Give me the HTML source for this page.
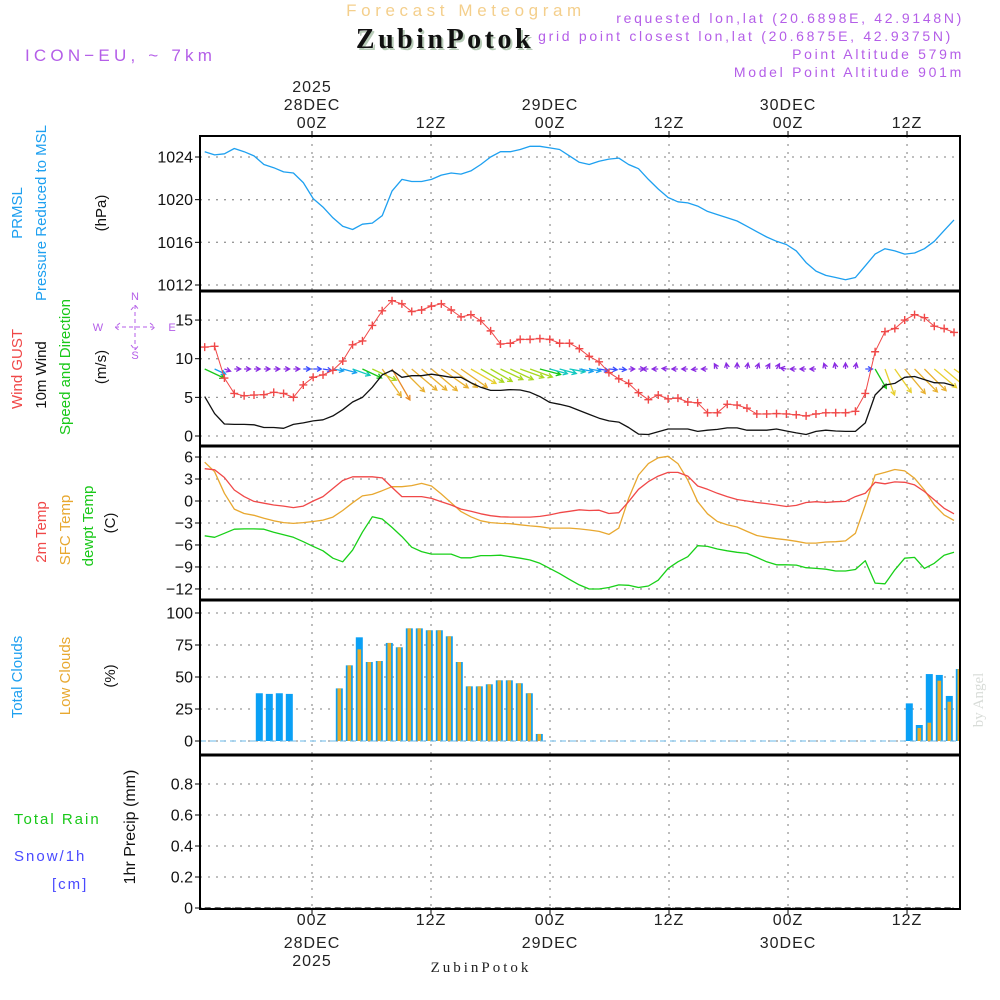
<!DOCTYPE html>
<html><head><meta charset="utf-8"><title>Meteogram ZubinPotok</title>
<style>
html,body{margin:0;padding:0;background:#fff;}
svg{display:block;font-family:"Liberation Sans",sans-serif;}
</style></head>
<body>
<svg id="chart" width="1000" height="1000" viewBox="0 0 1000 1000" xmlns="http://www.w3.org/2000/svg">
<defs><clipPath id="plotclip"><rect x="200" y="136" width="760" height="773"/></clipPath></defs>
<rect x="0" y="0" width="1000" height="1000" fill="#fff"/>
<!-- header -->
<text x="466" y="16" text-anchor="middle" font-size="17" fill="#f4cf8c" letter-spacing="4.6">Forecast Meteogram</text>
<text x="447" y="50" text-anchor="middle" font-family="Liberation Serif,serif" font-weight="bold" font-size="28" fill="#b8ccb8" letter-spacing="3.5">ZubinPotok</text>
<text x="445" y="48" text-anchor="middle" font-family="Liberation Serif,serif" font-weight="bold" font-size="28" fill="#111" letter-spacing="3.5">ZubinPotok</text>
<text x="25" y="61" font-size="17" fill="#b45ee8" letter-spacing="4.2">ICON−EU, ~ 7km</text>
<text x="964" y="23" text-anchor="end" font-size="14" fill="#b45ee8" letter-spacing="2.7">requested lon,lat (20.6898E, 42.9148N)</text>
<text x="953" y="41" text-anchor="end" font-size="14" fill="#b45ee8" letter-spacing="2.7">grid point closest lon,lat (20.6875E, 42.9375N)</text>
<text x="964" y="59" text-anchor="end" font-size="14" fill="#b45ee8" letter-spacing="2.7">Point Altitude 579m</text>
<text x="964" y="77" text-anchor="end" font-size="14" fill="#b45ee8" letter-spacing="2.7">Model Point Altitude 901m</text>
<text x="983" y="700" text-anchor="middle" font-family="Liberation Serif,serif" font-size="15" fill="#d8dcd8" transform="rotate(-90 983 700)">by Angel</text>
<text x="481" y="972" text-anchor="middle" font-family="Liberation Serif,serif" font-size="15" fill="#222" letter-spacing="3">ZubinPotok</text>
<g id="labels" font-size="15"></g>
<g id="grid"></g>
<g id="marks" clip-path="url(#plotclip)"></g>
<g id="frames"></g>
</svg>
<script>
// ---------- data ----------
const tickHours = [0, 12, 24, 36, 48, 60];
const tickTopLabels = ["00Z", "12Z", "00Z", "12Z", "00Z", "12Z"];
const tickDateLabels = ["28DEC", "", "29DEC", "", "30DEC", ""];
const tickYearLabels = ["2025", "", "", "", "", ""];

const pressure = [1024.5,1024.2,1024.3,1024.8,1024.5,1024.1,1023.3,1023.0,1022.6,1022.5,
1021.6,1020.1,1019.3,1018.3,1017.5,1017.2,1017.7,1017.8,1018.5,1020.8,
1021.9,1021.7,1021.7,1021.9,1022.3,1022.5,1022.4,1022.7,1023.3,1024.0,
1024.5,1024.5,1024.7,1025.0,1025.0,1024.85,1024.7,1024.1,1023.5,
1023.3,1023.6,1023.8,1023.9,1023.3,1022.9,1021.9,1021.0,1020.2,1019.8,
1019.7,1019.4,1018.9,1018.6,1018.3,1018.0,1017.5,1017.0,1016.5,1016.1,
1015.8,1015.2,1014.1,1013.3,1012.9,1012.7,1012.5,1012.7,1013.8,1014.9,
1015.4,1015.2,1014.9,1015.0,1015.4,1016.1,1017.1,1018.1];
const pressureTicks = [1012, 1016, 1020, 1024];

const gust = [11.5,11.6,7.5,5.5,5.2,5.3,5.35,5.65,5.5,5.0,
6.6,7.6,7.9,8.5,9.7,11.8,12.3,14.3,16.2,17.5,
17.1,16.1,16.3,16.8,17.1,16.3,15.4,15.7,14.9,13.6,
11.9,12.0,12.5,12.5,12.6,12.5,12.0,12.0,11.3,
10.3,9.6,8.2,7.4,6.8,5.6,4.7,5.3,4.8,4.9,
4.4,4.3,3.0,3.0,4.1,4.0,3.6,2.85,2.85,2.9,
2.85,2.75,2.6,2.85,3.0,3.0,3.0,3.2,5.5,10.9,
13.5,13.9,15.0,15.7,15.3,14.2,13.9,13.4];
const windSpeed = [5.1,2.9,1.55,1.5,1.5,1.45,1.1,1.1,1.0,1.5,
1.7,1.95,2.1,2.6,3.4,4.4,5.0,6.3,7.9,8.5,
7.6,7.8,7.8,8.0,7.8,7.6,7.6,6.9,6.3,5.9,
5.9,6.0,5.95,5.65,5.1,4.35,4.1,3.8,3.3,
2.8,2.3,1.95,1.8,1.1,0.25,0.2,0.55,0.9,0.9,
0.9,0.6,0.75,0.85,1.05,1.05,0.75,0.75,0.75,0.9,
0.65,0.4,0.2,0.6,0.75,0.65,0.6,0.6,1.7,5.3,
6.6,6.8,7.6,7.7,7.3,6.9,6.85,6.5];
const windDirScreen = [25,25,20, 0,0,0,0,0,0,0,0,0, 10,10,15,20, 25,25,
55,60,45,40,40,40, 35,35,35,30,30,30,25,25, 20,20,15,15,15,10,10,
10,10,5,5,0, 0, 180,180,185,180,180,175,180, 240,260,270,280,290,300,300,
190,180,180, 180,250,260,270,280,0, 60,70, 55,50,45,45,40,40,35];
const windTicks = [0, 5, 10, 15];

const temp2m = [4.4,4.25,3.2,1.5,0.6,-0.05,-0.3,-0.55,-0.7,-0.9,
-0.7,0.0,0.6,1.7,2.8,3.3,3.3,3.3,3.15,1.85,
0.6,0.6,0.6,0.35,-0.1,-0.55,-1.1,-1.4,-1.75,-2.0,
-2.15,-2.2,-2.2,-2.2,-2.1,-1.9,-1.6,-1.4,-1.2,
-1.3,-1.25,-1.7,-1.6,-0.1,1.6,2.65,3.4,3.9,3.9,
3.4,2.05,1.6,1.05,0.6,0.2,0,-0.2,-0.35,-0.55,
-0.75,-0.6,-0.2,-0.1,-0.2,-0.1,-0.05,0.6,1.05,2.55,
2.35,2.6,2.55,2.2,1.3,0.15,-1.0,-1.75];
const tempSfc = [5.3,4.0,1.05,-1.1,-1.7,-1.95,-2.35,-2.7,-2.95,-3.05,
-2.95,-2.8,-2.6,-2.2,-1.3,-0.25,0.7,0.9,1.4,1.95,
1.95,2.1,2.4,2.05,0.95,-0.25,-1.45,-2.15,-2.7,-2.95,
-3.05,-3.1,-3.25,-3.4,-3.5,-3.7,-3.7,-3.7,-3.8,
-3.95,-4.15,-4.55,-3.7,0.35,3.55,5.1,5.9,6.1,5.1,
2.85,-0.1,-1.75,-2.8,-3.25,-3.55,-4.15,-4.7,-4.95,-5.15,
-5.3,-5.5,-5.75,-5.75,-5.6,-5.55,-5.45,-4.4,-0.55,3.55,
3.9,4.3,4.1,3.1,1.5,-0.55,-1.9,-2.65];
const dewpoint = [-4.75,-4.95,-4.4,-3.85,-3.8,-3.8,-3.85,-4.25,-4.6,-4.95,
-5.55,-6.2,-6.8,-7.8,-8.3,-6.7,-4.25,-2.15,-2.45,-3.6,
-4.85,-6.3,-6.9,-7.25,-7.25,-7.25,-7.75,-7.75,-7.45,-7.45,
-7.4,-7.6,-7.8,-8.05,-8.5,-9.2,-9.9,-10.7,-11.45,
-12.0,-12.0,-11.8,-11.45,-11.5,-11.8,-11.6,-10.8,-9.2,-8.3,
-7.6,-6.1,-6.2,-6.55,-6.8,-7.0,-7.15,-7.7,-8.3,-8.7,
-8.7,-8.75,-9.1,-9.2,-9.3,-9.55,-9.55,-9.35,-8.15,-11.2,
-11.3,-9.4,-7.8,-7.7,-9.2,-8.5,-7.4,-7.0];
const tempTicks = [-12, -9, -6, -3, 0, 3, 6];

const totalClouds = [0,0,0,0,0, 37.3,36.8,37.3,36.8, 0,0,0,0,
41.1,59.1,81.0,61.7,62.5,76.6,73.2,88.0,88.0,86.5,86.5,81.8,61.7,42.7,42.7,44.3,47.4,47.4,45.1,37.3,5.5,
0,0,0,0,0,0,0,0,0,0,0,0,0,0,0,0,0,0,0,0,0,0,0,0,0,0,0,0,0,0,0,0,0,0,0,0,
29.4,12.5,52.3,51.6,35.2,56.2];
const lowClouds = [0,0,0,0,0, 0,0,0,0, 0,0,0,0,
41.1,59.1,71.6,61.7,62.5,76.6,73.2,88.0,88.0,86.5,86.5,81.8,61.7,42.7,42.7,44.3,47.4,47.4,45.1,37.3,5.5,
0,0,0,0,0,0,0,0,0,0,0,0,0,0,0,0,0,0,0,0,0,0,0,0,0,0,0,0,0,0,0,0,0,0,0,0,
0,10.2,14.3,47.1,30.7,56.2];
const cloudTicks = [0, 25, 50, 75, 100];

const precip = new Array(77).fill(0);
const precipTicks = [0, 0.2, 0.4, 0.6, 0.8];
const precipTickLabels = ["0", "0.2", "0.4", "0.6", "0.8"];

// ---------- scales ----------
const L = 200, R = 960;
const panels = {p:[136,291], w:[291,446], t:[446,600], c:[600,755], r:[755,909]};
const xTime = h => 312 + h * 9.917;
const xIdx = i => 204.7 + i * (749.3 / 76);
const xBar = i => 259.3 + (i - 5) * 10;
const yP = v => 285 - (v - 1012) * 10.667;
const yW = v => 436 - v * 7.73;
const yT = v => 501 - v * 7.33;
const yC = v => 741 - v * 1.28;
const yR = v => 908 - v * 155;

const NS = "http://www.w3.org/2000/svg";
function mk(tag, attrs, parent) {
  const e = document.createElementNS(NS, tag);
  for (const k in attrs) e.setAttribute(k, attrs[k]);
  parent.appendChild(e);
  return e;
}
const grid = document.getElementById('grid');
const marks = document.getElementById('marks');
const frames = document.getElementById('frames');
const labels = document.getElementById('labels');

// ---------- grid & ticks ----------
tickHours.forEach((h, k) => {
  const x = xTime(h);
  const g = mk('line', {x1:x, x2:x, y1:136, y2:909, stroke:'#999', 'stroke-width':1.3, 'stroke-dasharray':'2,6'}, grid);
  
  
  const t1 = mk('line', {x1:x, x2:x, y1:131, y2:136, stroke:'#000', 'stroke-width':1}, grid);
  
  
  const t2 = mk('line', {x1:x, x2:x, y1:909, y2:914, stroke:'#000', 'stroke-width':1}, grid);
  
  
  const a = mk('text', {x:x, y:128, 'text-anchor':'middle', 'font-size':16, fill:'#222', 'letter-spacing':1}, labels);
  a.textContent = tickTopLabels[k];
  
  
  const b = mk('text', {x:x, y:925, 'text-anchor':'middle', 'font-size':16, fill:'#222', 'letter-spacing':1}, labels);
  b.textContent = tickTopLabels[k];
  
  
  if (tickDateLabels[k]) {
    const d = mk('text', {x:x, y:110, 'text-anchor':'middle', 'font-size':16, fill:'#222', 'letter-spacing':1}, labels);
    d.textContent = tickDateLabels[k];
    
    
    const d2 = mk('text', {x:x, y:948, 'text-anchor':'middle', 'font-size':16, fill:'#222', 'letter-spacing':1}, labels);
    d2.textContent = tickDateLabels[k];
    
    
  }
  if (tickYearLabels[k]) {
    const yy = mk('text', {x:x, y:92, 'text-anchor':'middle', 'font-size':16, fill:'#222', 'letter-spacing':1}, labels);
    yy.textContent = tickYearLabels[k];
    
    
    const y2 = mk('text', {x:x, y:966, 'text-anchor':'middle', 'font-size':16, fill:'#222', 'letter-spacing':1}, labels);
    y2.textContent = tickYearLabels[k];
    
    
  }
});

function yAxis(ticks, fy, texts, name) {
  ticks.forEach((v, k) => {
    const y = fy(v);
    const g = mk('line', {x1:L, x2:R, y1:y, y2:y, stroke:'#999', 'stroke-width':1.3, 'stroke-dasharray':'2,6'}, grid);
    
    
    const t = mk('line', {x1:195, x2:L, y1:y, y2:y, stroke:'#000', 'stroke-width':1}, grid);
    
    
    const tx = mk('text', {x:193, y:y + 5.5, 'text-anchor':'end', 'font-size':16, fill:'#111'}, labels);
    tx.textContent = texts ? texts[k] : String(v).replace('-', '−');
    
    
  });
}
yAxis(pressureTicks, yP, null, 'pressure-axis');
yAxis(windTicks, yW, null, 'wind-axis');
yAxis(tempTicks, yT, null, 'temp-axis');
yAxis(cloudTicks, yC, null, 'cloud-axis');
yAxis(precipTicks, yR, precipTickLabels, 'precip-axis');

// ---------- series ----------
function line(arr, fy, color, name, w) {
  const d = arr.map((v, i) => (i ? 'L' : 'M') + xIdx(i).toFixed(1) + ',' + fy(v).toFixed(1)).join(' ');
  const p = mk('path', {d:d, fill:'none', stroke:color, 'stroke-width':w || 1.3, 'stroke-linejoin':'round'}, marks);
  
  
  return p;
}
line(pressure, yP, '#1ea0f0', 'pressure-line');

// cloud bars
totalClouds.forEach((v, i) => {
  const x = xBar(i);
  if (v > 0) {
    const b = mk('rect', {x:x - 3.5, y:yC(v), width:7, height:741 - yC(v), fill:'#0aa0f5'}, marks);
    
    
  }
  const lv = lowClouds[i];
  if (lv > 0) {
    const c = mk('rect', {x:x - 1.8, y:yC(lv), width:3.6, height:741 - yC(lv), fill:'#e8ac2c'}, marks);
    
    
  }
});
const zc = mk('line', {x1:L, x2:R, y1:741, y2:741, stroke:'#6ab8e8', 'stroke-width':1, 'stroke-dasharray':'6,4'}, marks);



// precip (all zero) baseline
const dp = precip.map((v, i) => (i ? 'L' : 'M') + xIdx(i).toFixed(1) + ',' + yR(v).toFixed(1)).join(' ');
const pp = mk('path', {d:dp, fill:'none', stroke:'#222', 'stroke-width':1.2, 'stroke-dasharray':'6,4'}, marks);



// wind arrows
function windColor(s) {
  if (s < 1.6) return '#8a2be2';
  if (s < 2.6) return '#3a4cff';
  if (s < 3.6) return '#18a0f0';
  if (s < 4.6) return '#10c8c0';
  if (s < 5.6) return '#18c818';
  if (s < 6.5) return '#a8d820';
  if (s < 7.3) return '#e8d030';
  if (s < 8.1) return '#e8b030';
  return '#e88a28';
}
windSpeed.forEach((s, i) => {
  const x0 = xIdx(i), y0 = 369;
  const len = Math.max(6, s * 4.2);
  const a = windDirScreen[i] * Math.PI / 180;
  const x1 = x0 + Math.cos(a) * len, y1 = y0 + Math.sin(a) * len;
  const col = windColor(s);
  const h = 5, sp = 0.5;
  const d = 'M' + x0.toFixed(1) + ',' + y0 + ' L' + x1.toFixed(1) + ',' + y1.toFixed(1) +
    ' M' + (x1 - Math.cos(a - sp) * h).toFixed(1) + ',' + (y1 - Math.sin(a - sp) * h).toFixed(1) +
    ' L' + x1.toFixed(1) + ',' + y1.toFixed(1) +
    ' L' + (x1 - Math.cos(a + sp) * h).toFixed(1) + ',' + (y1 - Math.sin(a + sp) * h).toFixed(1);
  const p = mk('path', {d:d, fill:'none', stroke:col, 'stroke-width':1.3}, marks);
  
  
});
line(windSpeed, yW, '#111', 'wind-speed-line');
line(gust, yW, '#f04848', 'wind-gust-line', 1);
gust.forEach((v, i) => {
  const x = xIdx(i), y = yW(v);
  const m = mk('path', {d:'M' + (x - 4) + ',' + y + 'H' + (x + 4) + 'M' + x + ',' + (y - 4) + 'V' + (y + 4), stroke:'#f04848', 'stroke-width':1.4}, marks);
  
  
});

line(tempSfc, yT, '#e8a830', 'sfc-temp-line');
line(temp2m, yT, '#f04848', 'temp-2m-line');
line(dewpoint, yT, '#18d018', 'dewpoint-line');

// frames
[['p','pressure-panel'],['w','wind-panel'],['t','temp-panel'],['c','cloud-panel'],['r','precip-panel']].forEach(([k, n]) => {
  const [a, b] = panels[k];
  const r = mk('rect', {x:L, y:a, width:R - L, height:b - a, fill:'none', stroke:'#000', 'stroke-width':2}, frames);
  
  
});
[291, 446, 600, 755].forEach(y => {
  const l = mk('line', {x1:L, x2:R, y1:y, y2:y, stroke:'#000', 'stroke-width':3}, frames);
  
  
});

// left rotated labels
function vlabel(txt, x, y, col, name, fs) {
  const t = mk('text', {x:x, y:y, 'text-anchor':'middle', fill:col, 'font-size':fs || 15, transform:'rotate(-90 ' + x + ' ' + y + ')'}, labels);
  t.textContent = txt;
  
  
}
function hlabel(txt, x, y, col, name) {
  const t = mk('text', {x:x, y:y, fill:col, 'font-size':15, 'letter-spacing':2}, labels);
  t.textContent = txt;
  
  
}
vlabel('PRMSL', 22, 213, '#1ea0f0', 'prmsl-label');
vlabel('Pressure Reduced to MSL', 46, 213, '#1ea0f0', 'pressure-title');
vlabel('(hPa)', 106, 213, '#111', 'pressure-unit');
vlabel('Wind GUST', 22, 369, '#f04848', 'gust-label');
vlabel('10m Wind', 46, 375, '#111', 'wind-label');
vlabel('Speed and Direction', 70, 367, '#18c818', 'wind-dir-label');
vlabel('(m/s)', 106, 367, '#111', 'wind-unit');
vlabel('2m Temp', 46, 532, '#f04848', 'temp-2m-label');
vlabel('SFC Temp', 70, 530, '#e8a830', 'sfc-temp-label');
vlabel('dewpt Temp', 93, 526, '#18c818', 'dewpoint-label');
vlabel('(C)', 115, 523, '#111', 'temp-unit');
vlabel('Total Clouds', 22, 677, '#1ea0f0', 'total-clouds-label');
vlabel('Low Clouds', 70, 676, '#e8a830', 'low-clouds-label');
vlabel('(%)', 115, 676, '#111', 'cloud-unit');
vlabel('1hr Precip (mm)', 135, 827, '#111', 'precip-title', 16);
hlabel('Total   Rain', 14, 824, '#18c818', 'rain-label');
hlabel('Snow/1h', 14, 861, '#4a4aff', 'snow-label');
hlabel('[cm]', 52, 889, '#4a4aff', 'snow-unit');
// compass
const cmp = mk('g', {fill:'#b45ee8', 'font-size':11, 'text-anchor':'middle'}, labels);


[['N',135,300],['S',135,359],['W',98,331],['E',172,331]].forEach(([s,x,y]) => {
  const t = mk('text', {x:x, y:y}, cmp); t.textContent = s;
  
  
});
const cl = mk('path', {d:'M115,327H155M135,305V350M120,323L115,327L120,331M150,323L155,327L150,331M131,310L135,305L139,310M131,345L135,350L139,345', stroke:'#b45ee8', fill:'none', 'stroke-width':1, 'stroke-dasharray':'4,3'}, cmp);


</script>
</body></html>
